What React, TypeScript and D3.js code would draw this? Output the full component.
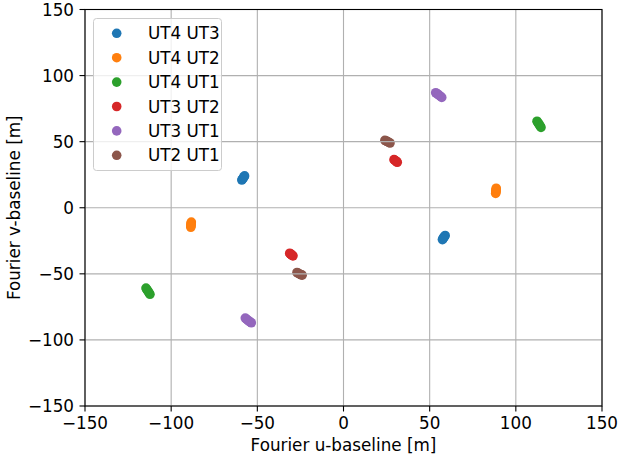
import React from 'react';
import * as d3 from 'd3';

// baselines, in legend order
const baselines = ['UT4 UT3', 'UT4 UT2', 'UT4 UT1', 'UT3 UT2', 'UT3 UT1', 'UT2 UT1'];
const colors = ['#1f77b4', '#ff7f0e', '#2ca02c', '#d62728', '#9467bd', '#8c564b'];

// u coordinates [m], each track followed by its mirrored track
const uUT4UT3 = [-59.0, -58.6, -58.3, -58.0, -57.7, -57.4, 59.0, 58.6, 58.3, 58.0, 57.7, 57.4];
const vUT4UT3 = [21.0, 21.7, 22.3, 22.9, 23.5, 24.1, -21.0, -21.7, -22.3, -22.9, -23.5, -24.1];

const uUT4UT2 = [88.3, 88.4, 88.5, 88.5, 88.6, 88.6, -88.3, -88.4, -88.5, -88.5, -88.6, -88.6];
const vUT4UT2 = [10.8, 11.6, 12.4, 13.2, 14.0, 14.8, -10.8, -11.6, -12.4, -13.2, -14.0, -14.8];

const uUT4UT1 = [112.3, 112.7, 113.2, 113.7, 114.2, 114.6, -112.3, -112.7, -113.2, -113.7, -114.2, -114.6];
const vUT4UT1 = [65.5, 64.6, 63.6, 62.6, 61.7, 60.8, -65.5, -64.6, -63.6, -62.6, -61.7, -60.8];

const uUT3UT2 = [29.3, 29.7, 30.1, 30.5, 30.9, 31.2, -29.3, -29.7, -30.1, -30.5, -30.9, -31.2];
const vUT3UT2 = [36.4, 36.0, 35.6, 35.2, 34.8, 34.4, -36.4, -36.0, -35.6, -35.2, -34.8, -34.4];

const uUT3UT1 = [53.5, 54.2, 54.9, 55.6, 56.3, 57.0, -53.5, -54.2, -54.9, -55.6, -56.3, -57.0];
const vUT3UT1 = [87.0, 86.4, 85.7, 85.0, 84.2, 83.5, -87.0, -86.4, -85.7, -85.0, -84.2, -83.5];

const uUT2UT1 = [24.0, 24.6, 25.2, 25.8, 26.4, 27.0, -24.0, -24.6, -25.2, -25.8, -26.4, -27.0];
const vUT2UT1 = [51.0, 50.7, 50.3, 49.9, 49.4, 49.0, -51.0, -50.7, -50.3, -49.9, -49.4, -49.0];

const uTracks = [uUT4UT3, uUT4UT2, uUT4UT1, uUT3UT2, uUT3UT1, uUT2UT1];
const vTracks = [vUT4UT3, vUT4UT2, vUT4UT1, vUT3UT2, vUT3UT1, vUT2UT1];

const xTicks = [-150, -100, -50, 0, 50, 100, 150];
const yTicks = [-150, -100, -50, 0, 50, 100, 150];

const W = 618;
const H = 459;
const left = 85;
const right = 602;
const top = 9.5;
const bottom = 406;
const font = 'DejaVu Sans, sans-serif';
const fs = 16.8;

const fmt = (d: number) => (d < 0 ? '\u2212' + Math.abs(d) : String(d));

export default function App() {
  const x = d3.scaleLinear().domain([-150, 150]).range([left, right]);
  const y = d3.scaleLinear().domain([-150, 150]).range([bottom, top]);

  const legX = 93.5;
  const legY = 18.5;
  const legW = 128;
  const legH = 152;
  const rowH = 24.4;
  const firstRow = 33.3;

  return (
    <svg
      width={W}
      height={H}
      style={{ position: 'absolute', left: 0, top: 0, background: 'white' }}
      fontFamily={font}
      fontSize={fs}
    >
      <rect x={left} y={top} width={right - left} height={bottom - top} fill="white" />

      {/* scatter tracks */}
      {uTracks.map((us, i) => (
        <g key={baselines[i]} fill={colors[i]}>
          {us.map((u, j) => (
            <circle key={j} cx={x(u)} cy={y(vTracks[i][j])} r={4.8} />
          ))}
        </g>
      ))}

      {/* grid, drawn above the points like matplotlib does */}
      <g stroke="#b0b0b0" strokeWidth={1.1}>
        {xTicks.map((t) => (
          <line key={'gx' + t} x1={x(t)} x2={x(t)} y1={top} y2={bottom} />
        ))}
        {yTicks.map((t) => (
          <line key={'gy' + t} x1={left} x2={right} y1={y(t)} y2={y(t)} />
        ))}
      </g>

      {/* spines */}
      <rect
        x={left}
        y={top}
        width={right - left}
        height={bottom - top}
        fill="none"
        stroke="black"
        strokeWidth={1.1}
      />

      {/* x ticks */}
      <g>
        {xTicks.map((t) => (
          <g key={'xt' + t} transform={`translate(${x(t)},${bottom})`}>
            <line y1={0} y2={5.5} stroke="black" strokeWidth={1.1} />
            <text y={22.5} textAnchor="middle" fill="black">
              {fmt(t)}
            </text>
          </g>
        ))}
      </g>

      {/* y ticks */}
      <g>
        {yTicks.map((t) => (
          <g key={'yt' + t} transform={`translate(${left},${y(t)})`}>
            <line x1={0} x2={-5.5} stroke="black" strokeWidth={1.1} />
            <text x={-11} dy="0.36em" textAnchor="end" fill="black">
              {fmt(t)}
            </text>
          </g>
        ))}
      </g>

      <text x={(left + right) / 2} y={450.5} textAnchor="middle" fill="black">
        Fourier u-baseline [m]
      </text>
      <text
        transform={`translate(20,${(top + bottom) / 2}) rotate(-90)`}
        textAnchor="middle"
        fill="black"
      >
        Fourier v-baseline [m]
      </text>

      {/* legend */}
      <rect
        x={legX}
        y={legY}
        width={legW}
        height={legH}
        rx={3}
        fill="white"
        fillOpacity={0.8}
        stroke="#cccccc"
        strokeWidth={1}
      />
      {baselines.map((b, i) => (
        <g key={'leg' + b} transform={`translate(0,${firstRow + i * rowH})`}>
          <circle cx={116.7} cy={0} r={4.8} fill={colors[i]} />
          <text x={148} dy="0.36em" fill="black">
            {b}
          </text>
        </g>
      ))}
    </svg>
  );
}
